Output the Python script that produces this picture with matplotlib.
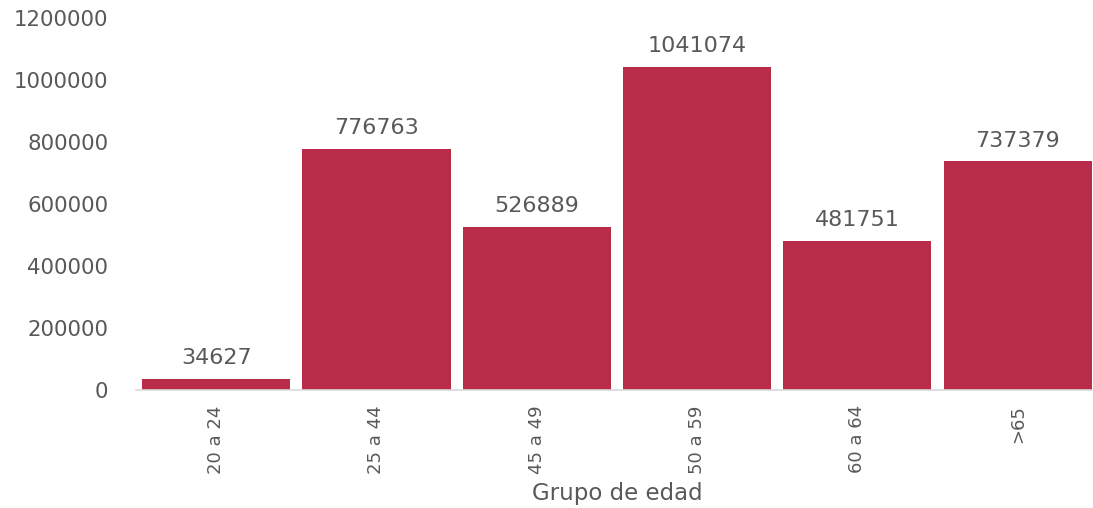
import matplotlib
matplotlib.use("Agg")
import matplotlib.pyplot as plt

# Population by age group
grupos = ["20 a 24", "25 a 44", "45 a 49", "50 a 59", "60 a 64", ">65"]
poblacion = [34627, 776763, 526889, 1041074, 481751, 737379]
yticks = [0, 200000, 400000, 600000, 800000, 1000000, 1200000]

bar_color = "#B82C4A"
text_color = "#595959"

plt.rcParams["font.family"] = ["DejaVu Sans"]

fig = plt.figure(figsize=(10.93, 5.08), dpi=100)
ax = fig.add_axes([0.1244, 0.2323, 0.880, 0.7323])

x = list(range(len(grupos)))
bars = ax.bar(x, poblacion, width=0.925, color=bar_color, edgecolor="none")

for xi, v in zip(x, poblacion):
    ax.annotate(f"{v}", xy=(xi, v), xytext=(0, 15), textcoords="offset points",
                ha="center", va="center", fontsize=16, color=text_color)

ax.set_xlim(-0.5, 5.5)
ax.set_ylim(0, 1200000)
ax.set_yticks(yticks)
ax.set_yticklabels([str(t) for t in yticks])
ax.set_xticks(x)
ax.set_xticklabels(grupos, rotation=90)

ax.tick_params(axis="y", length=0, pad=20, labelsize=15.3, labelcolor=text_color)
ax.tick_params(axis="x", length=0, pad=11, labelsize=13, labelcolor=text_color)

for side in ["top", "right", "left"]:
    ax.spines[side].set_visible(False)
ax.spines["bottom"].set_color("#D9D9D9")
ax.spines["bottom"].set_linewidth(1.2)

ax.set_xlabel("Grupo de edad", fontsize=16.5, color=text_color, labelpad=6)

fig.savefig("out.png", dpi=100, facecolor="white")
